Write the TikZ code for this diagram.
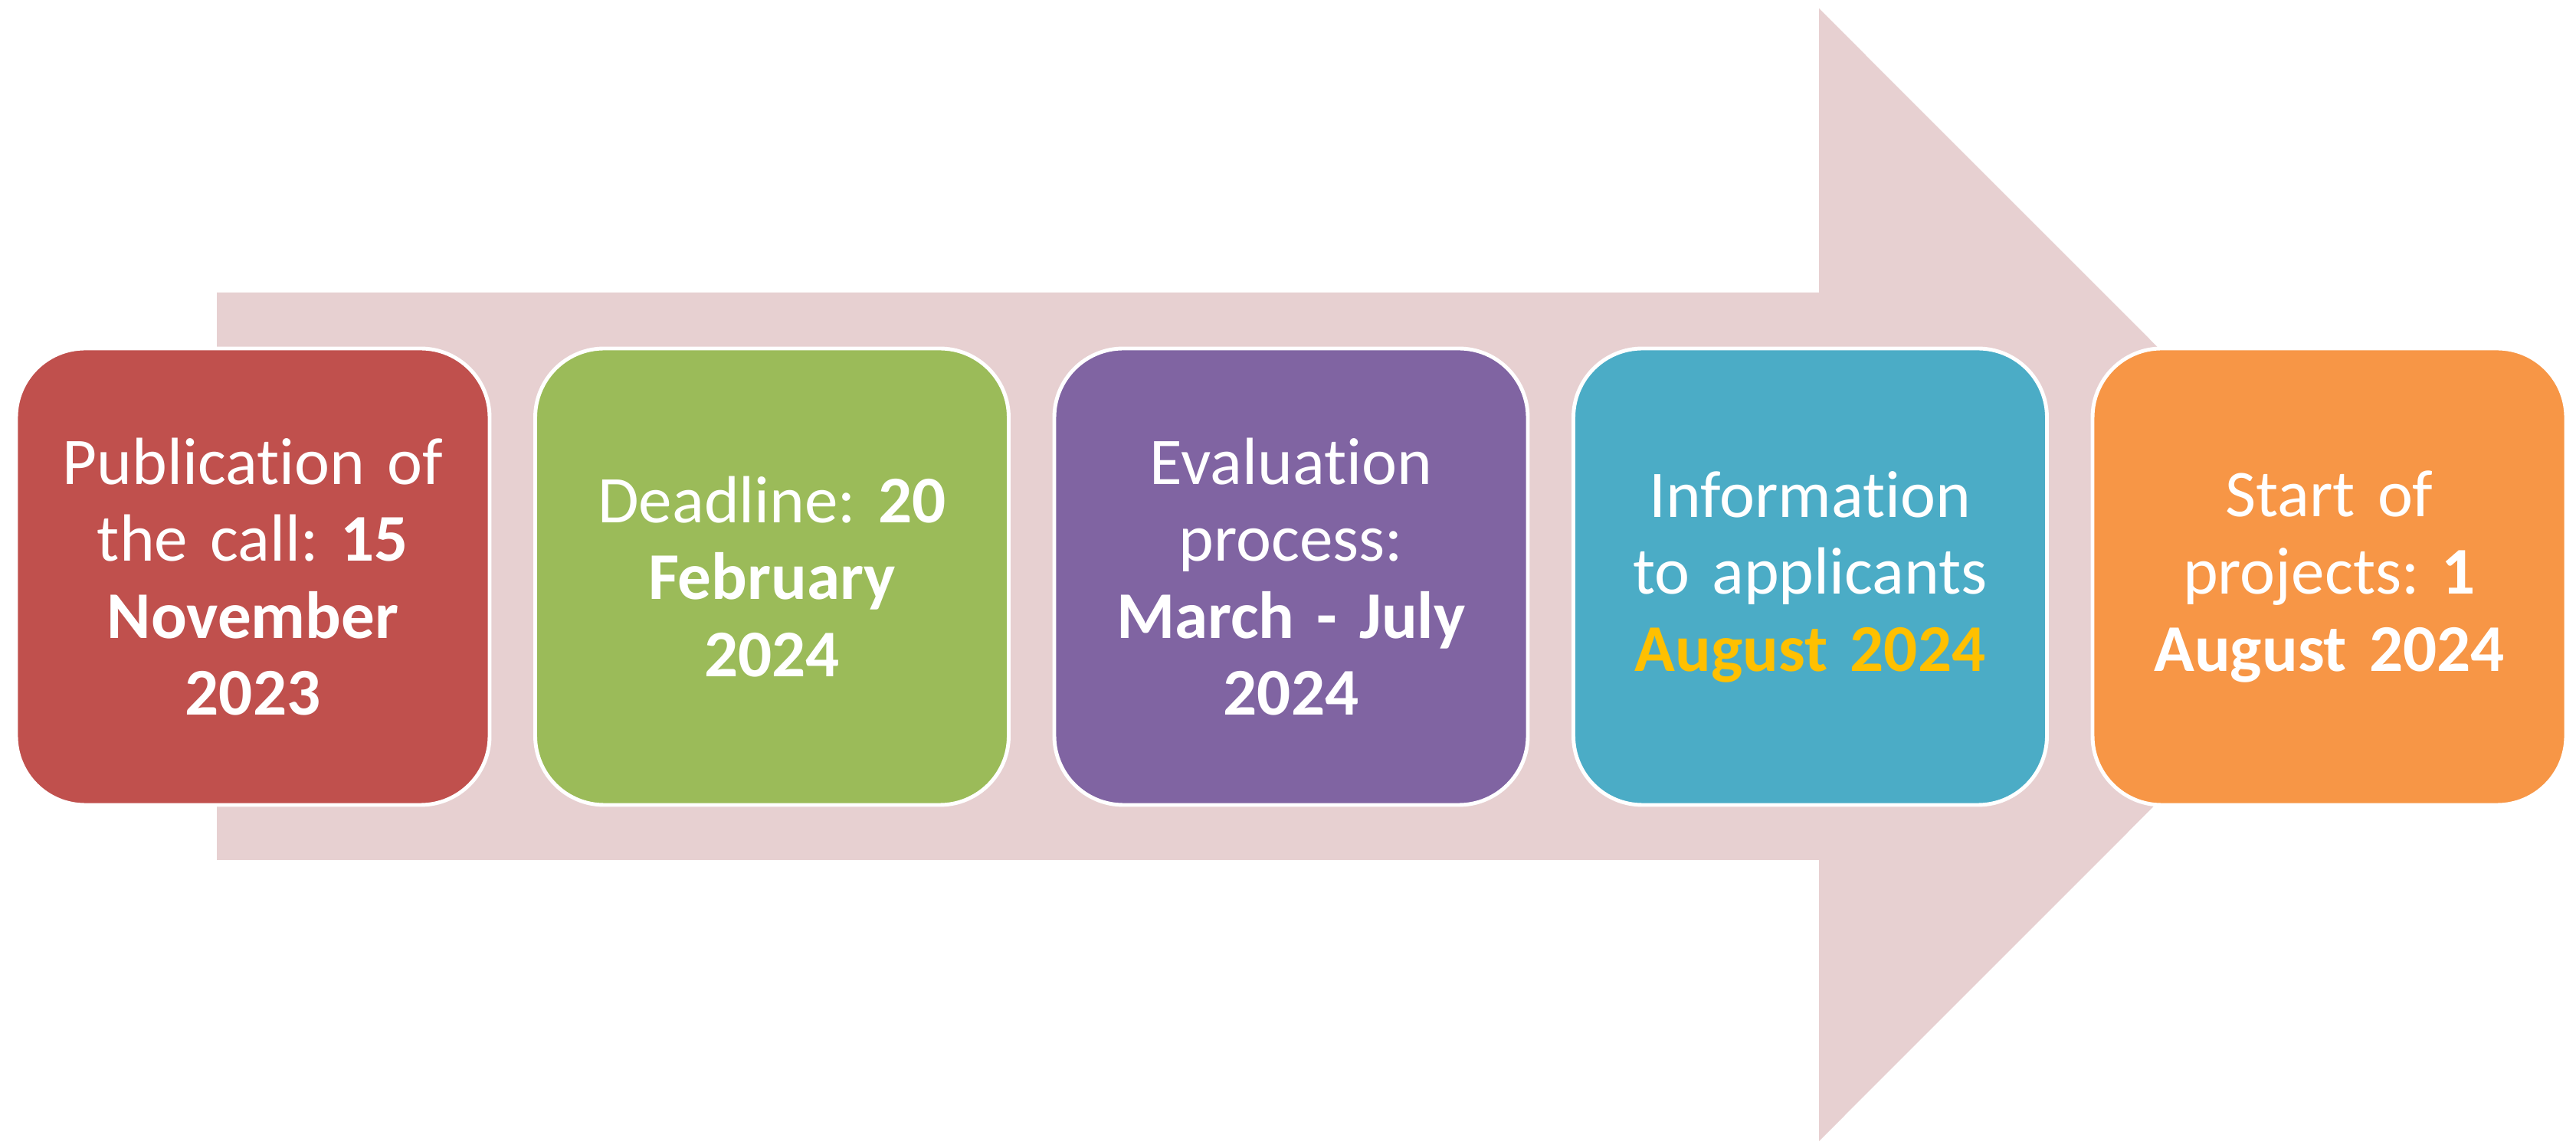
\documentclass[tikz,border=0pt]{standalone}
\usepackage{fontspec}
\setmainfont[Ligatures=NoCommon]{Carlito}
\usetikzlibrary{positioning}
\frenchspacing

\definecolor{arrowpink}{HTML}{E7D0D1}
\definecolor{stagered}{HTML}{C0504D}
\definecolor{stagegreen}{HTML}{9BBB59}
\definecolor{stagepurple}{HTML}{8064A2}
\definecolor{stageblue}{HTML}{4BACC6}
\definecolor{stageorange}{HTML}{F79646}
\definecolor{dateyellow}{HTML}{FFC000}

\tikzset{
  stage/.style={draw=white, line width=1.4pt, rounded corners=0.9cm,
    minimum width=6.18cm, minimum height=5.96cm, inner sep=0pt, outer sep=0pt,
    text width=5.9cm, align=center, text=white,
    font=\fontsize{24.8}{28.6}\selectfont},
}

\begin{document}
\begin{tikzpicture}
  \useasboundingbox (0,0) rectangle (33.62,14.95);
  % big arrow behind the stages
  \fill[arrowpink] (2.83,11.13) coordinate (a0)
      -- (23.74,11.13) coordinate (a1)
      -- (23.74,14.84) coordinate (a2)
      -- (31.13,7.445) coordinate (tip)
      -- (23.74,0.05) coordinate (a3)
      -- (23.74,3.72) coordinate (a4)
      -- (2.83,3.72) coordinate (a5) -- cycle;
  % the five stages
  \node[stage, fill=stagered] (pub) at (3.30,7.42)
      {Publication of\\ the call: \textbf{15}\\ \textbf{November}\\ \textbf{2023}};
  \node[stage, fill=stagegreen, right=0.595cm of pub] (deadline)
      {Deadline: \textbf{20}\\ \textbf{February}\\ \textbf{2024}};
  \node[stage, fill=stagepurple, right=0.595cm of deadline] (eval)
      {Evaluation\\ process:\\ \textbf{March - July}\\ \textbf{2024}};
  \node[stage, fill=stageblue, right=0.595cm of eval] (info)
      {Information\\ to applicants\\ \textcolor{dateyellow}{\textbf{August 2024}}};
  \node[stage, fill=stageorange, right=0.595cm of info] (start)
      {Start of\\ projects: \textbf{1}\\ \textbf{August 2024}};
\end{tikzpicture}
\end{document}
